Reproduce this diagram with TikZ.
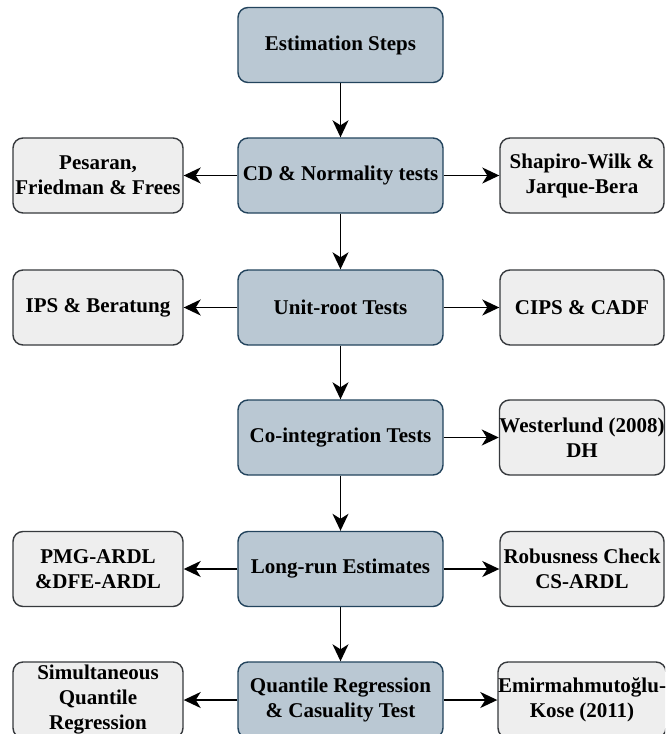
\documentclass[tikz,border=0pt]{standalone}
\usepackage{fontspec}
\setmainfont{Liberation Serif}
\usetikzlibrary{arrows.meta}
\definecolor{mainfill}{HTML}{BAC8D3}
\definecolor{maindraw}{HTML}{23445D}
\definecolor{sidefill}{HTML}{EEEEEE}
\definecolor{sidedraw}{HTML}{36393D}
\begin{document}
\begin{tikzpicture}[x=1pt,y=-1pt,
  box/.style={rectangle,rounded corners=10pt,line width=1.4pt,align=center,
    font=\fontsize{21}{25}\selectfont\bfseries,inner sep=0pt},
  mainbox/.style={box,fill=mainfill,draw=maindraw,minimum width=205pt,minimum height=75pt},
  leftbox/.style={box,fill=sidefill,draw=sidedraw,minimum width=170pt,minimum height=75pt},
  rightbox/.style={box,fill=sidefill,draw=sidedraw,minimum width=164pt,minimum height=75pt},
  conn/.style={line width=1.6pt,-{Stealth[length=17pt,width=16pt,inset=5pt]}}]
\clip (0,0) rectangle (665,734);
\fill[white] (0,0) rectangle (665,734);

\node[mainbox] (m1) at (340.5,45) {Estimation Steps};
\node[mainbox] (m2) at (340.5,175.5) {CD \& Normality tests};
\node[mainbox] (m3) at (340.5,307.5) {Unit-root Tests};
\node[mainbox] (m4) at (340.5,437.5) {Co-integration Tests};
\node[mainbox] (m5) at (340.5,569) {Long-run Estimates};
\node[mainbox,minimum height=76pt] (m6) at (340.5,700) {Quantile Regression\\\& Casuality Test};

\node[leftbox] (l2) at (98,175.5) {Pesaran,\\Friedman \& Frees};
\node[leftbox] (l3) at (98,307.5) {IPS \& Beratung};
\node[leftbox] (l5) at (98,569) {PMG-ARDL\\\&DFE-ARDL};
\node[leftbox,minimum height=76pt] (l6) at (98,700) {Simultaneous\\Quantile\\Regression};

\node[rightbox] (r2) at (582,175.5) {Shapiro-Wilk \&\\Jarque-Bera};
\node[rightbox] (r3) at (582,307.5) {CIPS \& CADF};
\node[rightbox] (r4) at (582,437.5) {Westerlund (2008)\\DH};
\node[rightbox] (r5) at (582,569) {Robusness Check\\CS-ARDL};
\node[rightbox,minimum height=76pt] (r6) at (582,700) {Emirmahmutoğlu-\\Kose (2011)};

\draw[conn] (m1) -- (m2);
\draw[conn] (m2) -- (m3);
\draw[conn] (m3) -- (m4);
\draw[conn] (m4) -- (m5);
\draw[conn] (m5) -- (m6);

\draw[conn] (m2) -- (l2);
\draw[conn] (m2) -- (r2);
\draw[conn] (m3) -- (l3);
\draw[conn] (m3) -- (r3);
\draw[conn] (m4) -- (r4);
\draw[conn] (m5) -- (l5);
\draw[conn] (m5) -- (r5);
\draw[conn] (m6) -- (l6);
\draw[conn] (m6) -- (r6);
\end{tikzpicture}
\end{document}
